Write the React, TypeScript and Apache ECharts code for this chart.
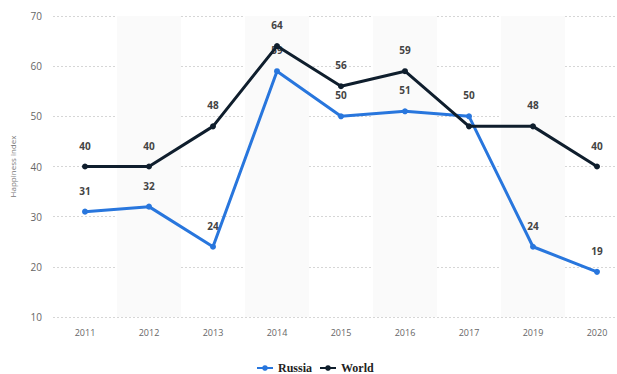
import React, { useEffect, useRef } from "react";
import * as echarts from "echarts";

const years = ["2011", "2012", "2013", "2014", "2015", "2016", "2017", "2019", "2020"];
const russia = [31, 32, 24, 59, 50, 51, 50, 24, 19];
const world = [40, 40, 48, 64, 56, 59, 48, 48, 40];
// World's 2017 value label is hidden in the reference (it overlaps Russia's)
const worldLabelShown = [true, true, true, true, true, true, false, true, true];
const yTicks = { min: 10, max: 70, interval: 10 };

export default function App() {
  const ref = useRef<HTMLDivElement>(null);
  useEffect(() => {
    if (!ref.current) return;
    const chart = echarts.init(ref.current, null, { renderer: "svg" });
    const labelStyle = {
      show: true,
      position: "top",
      distance: 13,
      fontSize: 10,
      fontWeight: "bold",
      color: "#444",
      fontFamily: "Open Sans, sans-serif",
    };
    chart.setOption({
      animation: false,
      backgroundColor: "#ffffff",
      grid: { left: 50, right: 0, top: 16, bottom: 57 },
      legend: {
        data: ["Russia", "World"],
        left: 251,
        top: 357,
        itemWidth: 16,
        itemHeight: 7,
        itemGap: 7,
        textStyle: {
          fontFamily: "Liberation Serif, serif",
          fontWeight: "bold",
          fontSize: 12,
          color: "#222",
        },
      },
      xAxis: {
        type: "category",
        data: years,
        boundaryGap: true,
        axisLine: { show: false },
        axisTick: { show: false },
        axisLabel: { color: "#666", fontSize: 9, margin: 11, fontFamily: "Open Sans, sans-serif" },
        splitArea: { show: true, areaStyle: { color: ["rgba(0,0,0,0)", "#fafafa"] } },
      },
      yAxis: {
        type: "value",
        min: yTicks.min,
        max: yTicks.max,
        interval: yTicks.interval,
        name: "Happiness index",
        nameLocation: "middle",
        nameGap: 37,
        nameTextStyle: { color: "#777", fontSize: 8, fontFamily: "Open Sans, sans-serif" },
        axisLine: { show: false },
        axisTick: { show: false },
        axisLabel: { color: "#666", fontSize: 10, margin: 11, fontFamily: "Open Sans, sans-serif" },
        splitLine: { lineStyle: { color: "#d6d6d6", type: [2, 2] } },
      },
      series: [
        {
          name: "Russia",
          type: "line",
          data: russia,
          symbol: "circle",
          symbolSize: 6,
          lineStyle: { width: 3, color: "#2876dd" },
          itemStyle: { color: "#2876dd" },
          label: labelStyle,
          labelLayout: { hideOverlap: false },
          z: 2,
        },
        {
          name: "World",
          type: "line",
          data: world.map((v, i) => ({ value: v, label: { show: worldLabelShown[i] } })),
          symbol: "circle",
          symbolSize: 6,
          lineStyle: { width: 3, color: "#0f1e2d" },
          itemStyle: { color: "#0f1e2d" },
          label: labelStyle,
          z: 3,
        },
      ],
    });
    return () => chart.dispose();
  }, []);
  return (
    <div
      style={{
        position: "fixed",
        left: 0,
        top: 0,
        width: 617,
        height: 374,
        overflow: "hidden",
        background: "#fff",
      }}
    >
      <div ref={ref} style={{ width: 629, height: 374 }} />
    </div>
  );
}
